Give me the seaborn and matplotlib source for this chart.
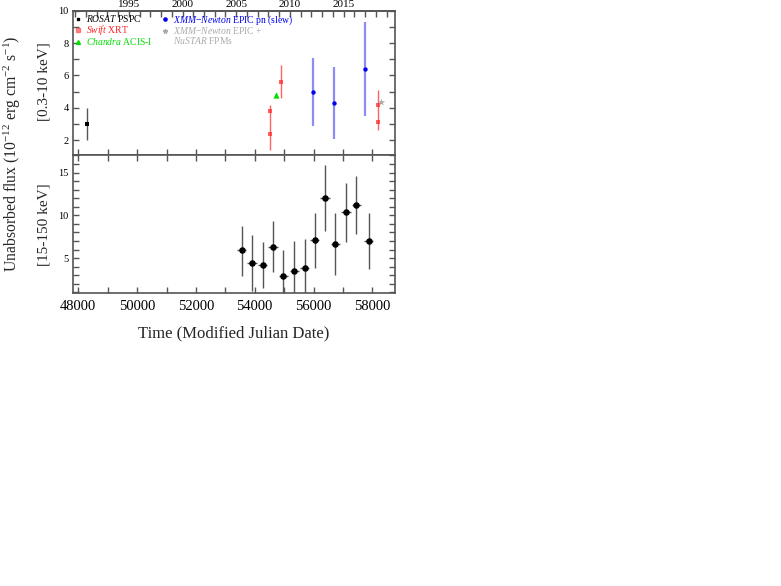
import datetime
import numpy as np
import pandas as pd
import matplotlib
matplotlib.use("Agg")
import matplotlib.pyplot as plt
import seaborn as sns
from matplotlib.ticker import MultipleLocator, FixedLocator
from matplotlib.lines import Line2D

# ---------------- data ----------------
rosat_mjd = [48306]
rosat_flux = [3.0]
rosat_lo = [1.0]
rosat_hi = [1.0]

swift_mjd = [54514, 54514, 54894, 58179, 58179]
swift_flux = [3.8, 2.4, 5.6, 4.2, 3.1]
swift_lo = [0.42, 1.0, 1.02, 0.5, 0.5]
swift_hi = [0.4, 0.95, 1.02, 0.9, 0.55]

chandra_mjd = [54737]
chandra_flux = [4.8]
chandra_err = [0.1]

xmm_mjd = [55966, 56704, 57754]
xmm_flux = [5.0, 4.3, 6.4]
xmm_lo = [2.15, 2.25, 2.9]
xmm_hi = [2.1, 2.2, 2.9]

nustar_mjd = [58290]
nustar_flux = [4.38]
nustar_err = [0.05]

bat_mjd = [53556, 53911, 54267, 54622, 54978, 55344, 55700, 56033, 56389, 56744, 57100, 57456, 57878]
bat_flux = [5.9, 4.4, 4.25, 6.35, 2.85, 3.45, 3.9, 7.1, 12.0, 6.65, 10.35, 11.2, 7.0]
bat_lo = [2.95, 3.3, 2.7, 3.0, 3.2, 3.5, 3.4, 3.2, 3.85, 3.65, 3.5, 3.4, 3.3]
bat_hi = [2.85, 3.25, 2.65, 3.0, 3.15, 3.6, 3.3, 3.2, 3.85, 3.65, 3.45, 3.35, 3.25]
bat_xerr = [160] * len(bat_mjd)

year_labels = [1995, 2000, 2005, 2010, 2015]
mjd_ticks_labels = [48000, 50000, 52000, 54000, 56000, 58000]

# ---------------- style ----------------
sns.set_theme(style="ticks")
plt.rcParams["font.family"] = ["Liberation Serif", "DejaVu Serif"]
plt.rcParams["mathtext.fontset"] = "custom"
plt.rcParams["mathtext.rm"] = "Liberation Serif"
plt.rcParams["mathtext.it"] = "Liberation Serif:italic"
plt.rcParams["axes.edgecolor"] = "#555555"
plt.rcParams["axes.linewidth"] = 1.2
plt.rcParams["xtick.color"] = "#555555"
plt.rcParams["ytick.color"] = "#555555"
plt.rcParams["xtick.labelcolor"] = "black"
plt.rcParams["ytick.labelcolor"] = "black"

W, H = 781, 586
fig = plt.figure(figsize=(W / 100, H / 100), dpi=100)
left, right = 73, 395
t_top, t_bot = 10.7, 155
b_top, b_bot = 155, 293
ax1 = fig.add_axes([left / W, 1 - t_bot / H, (right - left) / W, (t_bot - t_top) / H])
ax2 = fig.add_axes([left / W, 1 - b_bot / H, (right - left) / W, (b_bot - b_top) / H], sharex=ax1)

RED = "#ff2020"
BLUE = "#0000ee"
GREEN = "#00e000"
GREY = "#aaaaaa"

# top panel
ax1.errorbar(rosat_mjd, rosat_flux, yerr=[rosat_lo, rosat_hi], fmt="none",
             ecolor="#555555", elinewidth=1.0, capsize=0)
sns.scatterplot(x=rosat_mjd, y=rosat_flux, ax=ax1, color="black", marker="s", s=8,
                linewidth=0, zorder=3)

ax1.errorbar(swift_mjd, swift_flux, yerr=[swift_lo, swift_hi], fmt="none",
             ecolor=RED, alpha=0.7, elinewidth=1.0, capsize=0)
sns.scatterplot(x=swift_mjd, y=swift_flux, ax=ax1, color=RED, marker="s", s=9,
                linewidth=0, alpha=0.7, zorder=3)

ax1.errorbar(chandra_mjd, chandra_flux, yerr=chandra_err, fmt="none",
             ecolor=GREEN, elinewidth=1.0, capsize=0)
sns.scatterplot(x=chandra_mjd, y=chandra_flux, ax=ax1, color=GREEN, marker="^", s=20,
                linewidth=0, zorder=3)

ax1.errorbar(xmm_mjd, xmm_flux, yerr=[xmm_lo, xmm_hi], fmt="none",
             ecolor=BLUE, alpha=0.45, elinewidth=1.6, capsize=0)
sns.scatterplot(x=xmm_mjd, y=xmm_flux, ax=ax1, color=BLUE, marker="o", s=10,
                linewidth=0, zorder=3)

ax1.errorbar(nustar_mjd, nustar_flux, yerr=nustar_err, fmt="none",
             ecolor=GREY, elinewidth=1.0, capsize=0)
sns.scatterplot(x=nustar_mjd, y=nustar_flux, ax=ax1, color=GREY, marker="*", s=30,
                linewidth=0, zorder=3)

ax1.set_ylim(1.08, 10)
ax1.set_xlim(47820, 58770)
ax1.yaxis.set_major_locator(MultipleLocator(2))
ax1.yaxis.set_minor_locator(MultipleLocator(1))

# bottom panel
ax2.errorbar(bat_mjd, bat_flux, yerr=[bat_lo, bat_hi], xerr=bat_xerr, fmt="none",
             ecolor="#555555", elinewidth=1.0, capsize=0)
sns.scatterplot(x=bat_mjd, y=bat_flux, ax=ax2, color="black", marker="o", s=22,
                linewidth=0, zorder=3)
ax2.set_ylim(0.92, 17.05)
ax2.yaxis.set_major_locator(MultipleLocator(5))
ax2.yaxis.set_minor_locator(MultipleLocator(1))
ax2.xaxis.set_major_locator(FixedLocator(mjd_ticks_labels))
ax2.xaxis.set_minor_locator(MultipleLocator(1000))
ax2.set_xticklabels([str(v) for v in mjd_ticks_labels])

for ax in (ax1, ax2):
    ax.tick_params(axis="both", which="both", direction="in", top=True, right=True,
                   length=4, width=1.0)
    ax.tick_params(axis="y", labelsize=7.5, pad=3)
ax1.tick_params(axis="x", labelbottom=False)
ax2.tick_params(axis="x", labelsize=10.5, pad=5)

# years on top
def year_mjd(y):
    return (datetime.date(y, 1, 1) - datetime.date(1858, 11, 17)).days

sec = ax1.secondary_xaxis("top")
sec.set_xticks([year_mjd(y) for y in year_labels], labels=[str(y) for y in year_labels])
sec.xaxis.set_minor_locator(FixedLocator([year_mjd(y) for y in range(1990, 2020)]))
sec.tick_params(axis="x", which="both", direction="in", length=4, width=1.0, labelsize=8, pad=1.5)
ax1.tick_params(axis="x", which="both", top=False)

# legend
handles = [
    Line2D([], [], ls="none", marker="s", color="black", ms=2),
    Line2D([], [], ls="none", marker="s", color=RED, alpha=0.5, ms=2.2),
    Line2D([], [], ls="none", marker="^", color=GREEN, ms=2.8),
    Line2D([], [], ls="none", marker="o", color=BLUE, ms=2.3),
    Line2D([], [], ls="none", marker="*", color=GREY, ms=3.2),
    Line2D([], [], ls="none", marker=None),
]
labels = [
    r"$\mathit{ROSAT}$ PSPC",
    r"$\mathit{Swift}$ XRT",
    r"$\mathit{Chandra}$ ACIS-I",
    r"$\mathit{XMM}$" + "\u2212" + r"$\mathit{Newton}$ EPIC pn (slew)",
    r"$\mathit{XMM}$" + "\u2212" + r"$\mathit{Newton}$ EPIC +",
    r"$\mathit{NuSTAR}$ FPMs",
]
ax1.legend(handles, labels, loc="upper left", ncol=2, frameon=False, fontsize=6.9,
           labelcolor=["black", RED, GREEN, BLUE, GREY, GREY],
           handlelength=0.6, handletextpad=0.5, labelspacing=-0.12,
           columnspacing=1.0, borderaxespad=0.15, borderpad=0.1)

# labels
fig.text(12 / W, 1 - 154 / H, r"Unabsorbed flux (10$^{-12}$ erg cm$^{-2}$ s$^{-1}$)",
         rotation=90, ha="center", va="center", fontsize=11.3)
fig.text(44 / W, 1 - 82 / H, "[0.3-10 keV]", rotation=90, ha="center", va="center", fontsize=11)
fig.text(44 / W, 1 - 225 / H, "[15-150 keV]", rotation=90, ha="center", va="center", fontsize=11)
fig.text((left + right) / 2 / W, 1 - 333 / H, "Time (Modified Julian Date)",
         ha="center", va="center", fontsize=12)

fig.savefig("out.png", dpi=100)
